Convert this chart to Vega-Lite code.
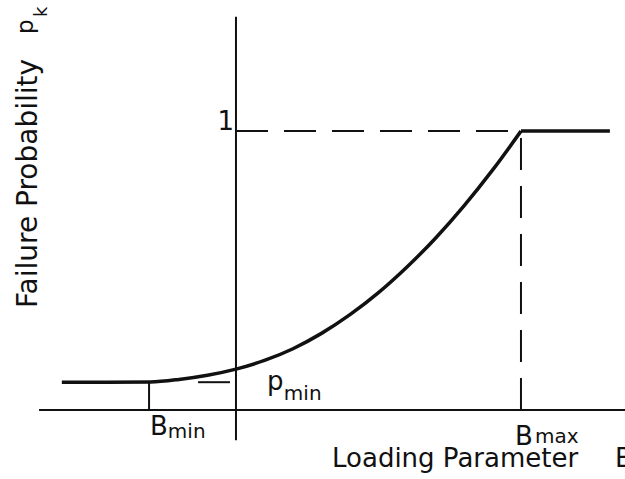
{
  "$schema": "https://vega.github.io/schema/vega-lite/v6.json",
  "width": 625,
  "height": 479,
  "autosize": {"type": "none"},
  "padding": 0,
  "background": "white",
  "config": {"view": {"stroke": null}},
  "datasets": {
    "curve": [
      {"seg": "rise", "B": -0.611, "P": 0.100},
      {"seg": "rise", "B": -0.45, "P": 0.100},
      {"seg": "rise", "B": -0.3, "P": 0.101},
      {"seg": "rise", "B": -0.2, "P": 0.110},
      {"seg": "rise", "B": -0.1, "P": 0.125},
      {"seg": "rise", "B": 0.0, "P": 0.147},
      {"seg": "rise", "B": 0.1, "P": 0.178},
      {"seg": "rise", "B": 0.2, "P": 0.220},
      {"seg": "rise", "B": 0.3, "P": 0.275},
      {"seg": "rise", "B": 0.4, "P": 0.342},
      {"seg": "rise", "B": 0.5, "P": 0.421},
      {"seg": "rise", "B": 0.6, "P": 0.513},
      {"seg": "rise", "B": 0.7, "P": 0.616},
      {"seg": "rise", "B": 0.8, "P": 0.732},
      {"seg": "rise", "B": 0.9, "P": 0.860},
      {"seg": "rise", "B": 1.0, "P": 1.0},
      {"seg": "top", "B": 1.0, "P": 1.0},
      {"seg": "top", "B": 1.312, "P": 1.0}
    ],
    "solid": [
      {"item": "x-axis", "B": -0.691, "B2": 1.37, "P": 0, "P2": 0},
      {"item": "y-axis", "B": 0, "B2": 0, "P": -0.108, "P2": 1.41},
      {"item": "Bmin", "B": -0.305, "B2": -0.305, "P": 0, "P2": 0.1},
      {"item": "pmin", "B": -0.133, "B2": -0.021, "P": 0.1, "P2": 0.1}
    ],
    "dashed": [
      {"item": "p=1", "B": 0, "B2": 1.0, "P": 1.0, "P2": 1.0},
      {"item": "Bmax", "B": 1.0, "B2": 1.0, "P": 0.0, "P2": 1.0}
    ],
    "bigtext": [
      {"label": "B", "B": -0.302, "P": -0.090},
      {"label": "B", "B": 0.979, "P": -0.125},
      {"label": "Loading Parameter", "B": 0.337, "P": -0.204},
      {"label": "B", "B": 1.330, "P": -0.204},
      {"label": "p", "B": 0.109, "P": 0.072}
    ],
    "subtext": [
      {"label": "min", "B": -0.239, "P": -0.100},
      {"label": "max", "B": 1.049, "P": -0.118},
      {"label": "min", "B": 0.168, "P": 0.036}
    ],
    "one": [
      {"label": "1", "B": -0.007, "P": 1.004}
    ],
    "ytitle": [
      {"label": "Failure Probability", "B": -0.698, "P": 0.366}
    ],
    "ypk": [
      {"label": "p", "B": -0.712, "P": 1.348}
    ],
    "ysub": [
      {"label": "k", "B": -0.664, "P": 1.409}
    ]
  },
  "layer": [
    {
      "data": {"name": "solid"},
      "mark": {"type": "rule", "color": "#111111", "strokeWidth": 2},
      "encoding": {
        "x": {"field": "B", "type": "quantitative", "scale": {"domain": [-0.828, 1.365], "nice": false, "zero": false}, "axis": null},
        "x2": {"field": "B2"},
        "y": {"field": "P", "type": "quantitative", "scale": {"domain": [-0.247, 1.47], "nice": false, "zero": false}, "axis": null},
        "y2": {"field": "P2"}
      }
    },
    {
      "data": {"name": "dashed"},
      "mark": {"type": "rule", "color": "#111111", "strokeWidth": 2, "strokeDash": [32, 16]},
      "encoding": {
        "x": {"field": "B", "type": "quantitative", "scale": {"domain": [-0.828, 1.365], "nice": false, "zero": false}, "axis": null},
        "x2": {"field": "B2"},
        "y": {"field": "P", "type": "quantitative", "scale": {"domain": [-0.247, 1.47], "nice": false, "zero": false}, "axis": null},
        "y2": {"field": "P2"}
      }
    },
    {
      "data": {"name": "curve"},
      "mark": {"type": "line", "color": "#111111", "strokeWidth": 3.5, "interpolate": "monotone", "strokeJoin": "miter"},
      "encoding": {
        "x": {"field": "B", "type": "quantitative", "scale": {"domain": [-0.828, 1.365], "nice": false, "zero": false}, "axis": null},
        "y": {"field": "P", "type": "quantitative", "scale": {"domain": [-0.247, 1.47], "nice": false, "zero": false}, "axis": null},
        "detail": {"field": "seg", "type": "nominal"}
      }
    },
    {
      "data": {"name": "bigtext"},
      "mark": {"type": "text", "font": "DejaVu Sans", "fontSize": 26, "align": "left", "baseline": "alphabetic", "color": "#111111"},
      "encoding": {
        "x": {"field": "B", "type": "quantitative", "scale": {"domain": [-0.828, 1.365], "nice": false, "zero": false}, "axis": null},
        "y": {"field": "P", "type": "quantitative", "scale": {"domain": [-0.247, 1.47], "nice": false, "zero": false}, "axis": null},
        "text": {"field": "label"}
      }
    },
    {
      "data": {"name": "subtext"},
      "mark": {"type": "text", "font": "DejaVu Sans", "fontSize": 20, "align": "left", "baseline": "alphabetic", "color": "#111111"},
      "encoding": {
        "x": {"field": "B", "type": "quantitative", "scale": {"domain": [-0.828, 1.365], "nice": false, "zero": false}, "axis": null},
        "y": {"field": "P", "type": "quantitative", "scale": {"domain": [-0.247, 1.47], "nice": false, "zero": false}, "axis": null},
        "text": {"field": "label"}
      }
    },
    {
      "data": {"name": "one"},
      "mark": {"type": "text", "font": "DejaVu Sans", "fontSize": 26, "align": "right", "baseline": "alphabetic", "color": "#111111"},
      "encoding": {
        "x": {"field": "B", "type": "quantitative", "scale": {"domain": [-0.828, 1.365], "nice": false, "zero": false}, "axis": null},
        "y": {"field": "P", "type": "quantitative", "scale": {"domain": [-0.247, 1.47], "nice": false, "zero": false}, "axis": null},
        "text": {"field": "label"}
      }
    },
    {
      "data": {"name": "ytitle"},
      "mark": {"type": "text", "font": "DejaVu Sans", "fontSize": 28, "align": "left", "baseline": "alphabetic", "angle": 270, "color": "#111111"},
      "encoding": {
        "x": {"field": "B", "type": "quantitative", "scale": {"domain": [-0.828, 1.365], "nice": false, "zero": false}, "axis": null},
        "y": {"field": "P", "type": "quantitative", "scale": {"domain": [-0.247, 1.47], "nice": false, "zero": false}, "axis": null},
        "text": {"field": "label"}
      }
    },
    {
      "data": {"name": "ypk"},
      "mark": {"type": "text", "font": "DejaVu Sans", "fontSize": 23, "align": "left", "baseline": "alphabetic", "angle": 270, "color": "#111111"},
      "encoding": {
        "x": {"field": "B", "type": "quantitative", "scale": {"domain": [-0.828, 1.365], "nice": false, "zero": false}, "axis": null},
        "y": {"field": "P", "type": "quantitative", "scale": {"domain": [-0.247, 1.47], "nice": false, "zero": false}, "axis": null},
        "text": {"field": "label"}
      }
    },
    {
      "data": {"name": "ysub"},
      "mark": {"type": "text", "font": "DejaVu Sans", "fontSize": 18, "align": "left", "baseline": "alphabetic", "angle": 270, "color": "#111111"},
      "encoding": {
        "x": {"field": "B", "type": "quantitative", "scale": {"domain": [-0.828, 1.365], "nice": false, "zero": false}, "axis": null},
        "y": {"field": "P", "type": "quantitative", "scale": {"domain": [-0.247, 1.47], "nice": false, "zero": false}, "axis": null},
        "text": {"field": "label"}
      }
    }
  ]
}
